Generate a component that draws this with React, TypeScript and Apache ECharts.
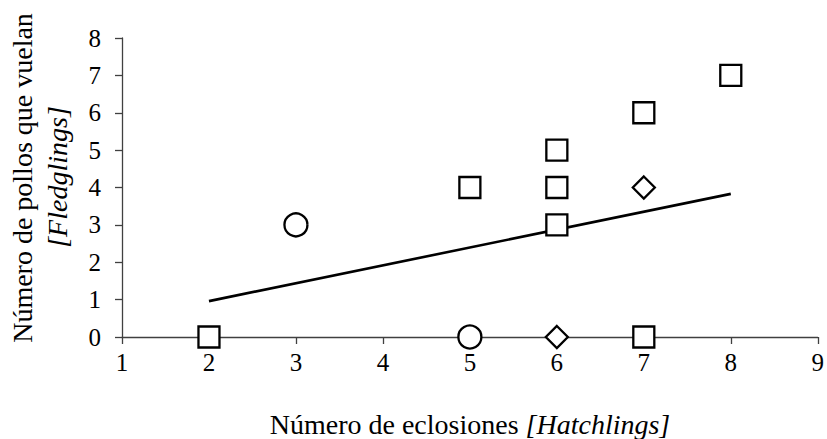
import React, { useEffect, useRef } from "react";
import * as echarts from "echarts";

const squarePoints: [number, number][] = [
  [2, 0], [5, 4], [6, 5], [6, 4], [6, 3], [7, 6], [8, 7], [7, 0],
];
const circlePoints: [number, number][] = [
  [3, 3], [5, 0],
];
const diamondPoints: [number, number][] = [
  [7, 4], [6, 0],
];
const trendLine: [number, number][] = [
  [2, 0.96], [8, 3.83],
];
const xTicks = [1, 2, 3, 4, 5, 6, 7, 8, 9];
const yTicks = [0, 1, 2, 3, 4, 5, 6, 7, 8];

const xTitle = "Número de eclosiones ";
const xTitleItalic = "[Hatchlings]";
const yTitle1 = "Número de pollos que vuelan";
const yTitle2 = "[Fledglings]";

const FONT = "Liberation Serif";

export default function App() {
  const ref = useRef<HTMLDivElement>(null);
  useEffect(() => {
    if (!ref.current) return;
    const chart = echarts.init(ref.current, undefined, { renderer: "svg" });
    const markerStyle = {
      color: "#ffffff",
      borderColor: "#000000",
      borderWidth: 2.3,
      opacity: 1,
    };
    chart.setOption({
      animation: false,
      backgroundColor: "#ffffff",
      textStyle: { fontFamily: FONT },
      grid: { left: 122, right: 8, top: 38, bottom: 102, containLabel: false },
      xAxis: {
        type: "value",
        min: xTicks[0],
        max: xTicks[xTicks.length - 1],
        interval: 1,
        splitLine: { show: false },
        axisLine: { onZero: false, lineStyle: { color: "#404040", width: 1.3 } },
        axisTick: { show: true, inside: false, length: 7, lineStyle: { color: "#404040", width: 1.3 } },
        axisLabel: { color: "#000", fontFamily: FONT, fontSize: 25, margin: 13 },
      },
      yAxis: {
        type: "value",
        min: yTicks[0],
        max: yTicks[yTicks.length - 1],
        interval: 1,
        splitLine: { show: false },
        axisLine: { show: true, onZero: false, lineStyle: { color: "#404040", width: 1.3 } },
        axisTick: { show: true, inside: false, length: 7, lineStyle: { color: "#404040", width: 1.3 } },
        axisLabel: { color: "#000", fontFamily: FONT, fontSize: 25, margin: 21 },
      },
      graphic: [
        {
          type: "text",
          x: 470,
          y: 424,
          style: {
            text: "{n|" + xTitle + "}{i|" + xTitleItalic + "}",
            rich: {
              n: { fontFamily: FONT, fontSize: 28, fill: "#000" },
              i: { fontFamily: FONT, fontSize: 28, fontStyle: "italic", fill: "#000" },
            },
            textAlign: "center",
            textVerticalAlign: "middle",
          },
        },
        {
          type: "text",
          x: 22,
          y: 178,
          rotation: Math.PI / 2,
          style: {
            text: yTitle1,
            fontFamily: FONT,
            fontSize: 28,
            fill: "#000",
            textAlign: "center",
            textVerticalAlign: "middle",
          },
        },
        {
          type: "text",
          x: 57,
          y: 177,
          rotation: Math.PI / 2,
          style: {
            text: yTitle2,
            fontFamily: FONT,
            fontSize: 28,
            fontStyle: "italic",
            fill: "#000",
            textAlign: "center",
            textVerticalAlign: "middle",
          },
        },
      ],
      series: [
        {
          type: "line",
          data: trendLine,
          showSymbol: false,
          symbol: "none",
          lineStyle: { color: "#000", width: 2.6 },
          z: 1,
        },
        {
          type: "scatter",
          data: squarePoints,
          symbol: "rect",
          symbolSize: 21,
          itemStyle: markerStyle,
          z: 3,
        },
        {
          type: "scatter",
          data: circlePoints,
          symbol: "circle",
          symbolSize: 23,
          itemStyle: markerStyle,
          z: 3,
        },
        {
          type: "scatter",
          data: diamondPoints,
          symbol: "diamond",
          symbolSize: 22,
          itemStyle: markerStyle,
          z: 3,
        },
      ],
    });
    return () => chart.dispose();
  }, []);
  return (
    <div
      ref={ref}
      style={{ position: "fixed", left: 0, top: 0, width: 827, height: 439, background: "#fff" }}
    />
  );
}
